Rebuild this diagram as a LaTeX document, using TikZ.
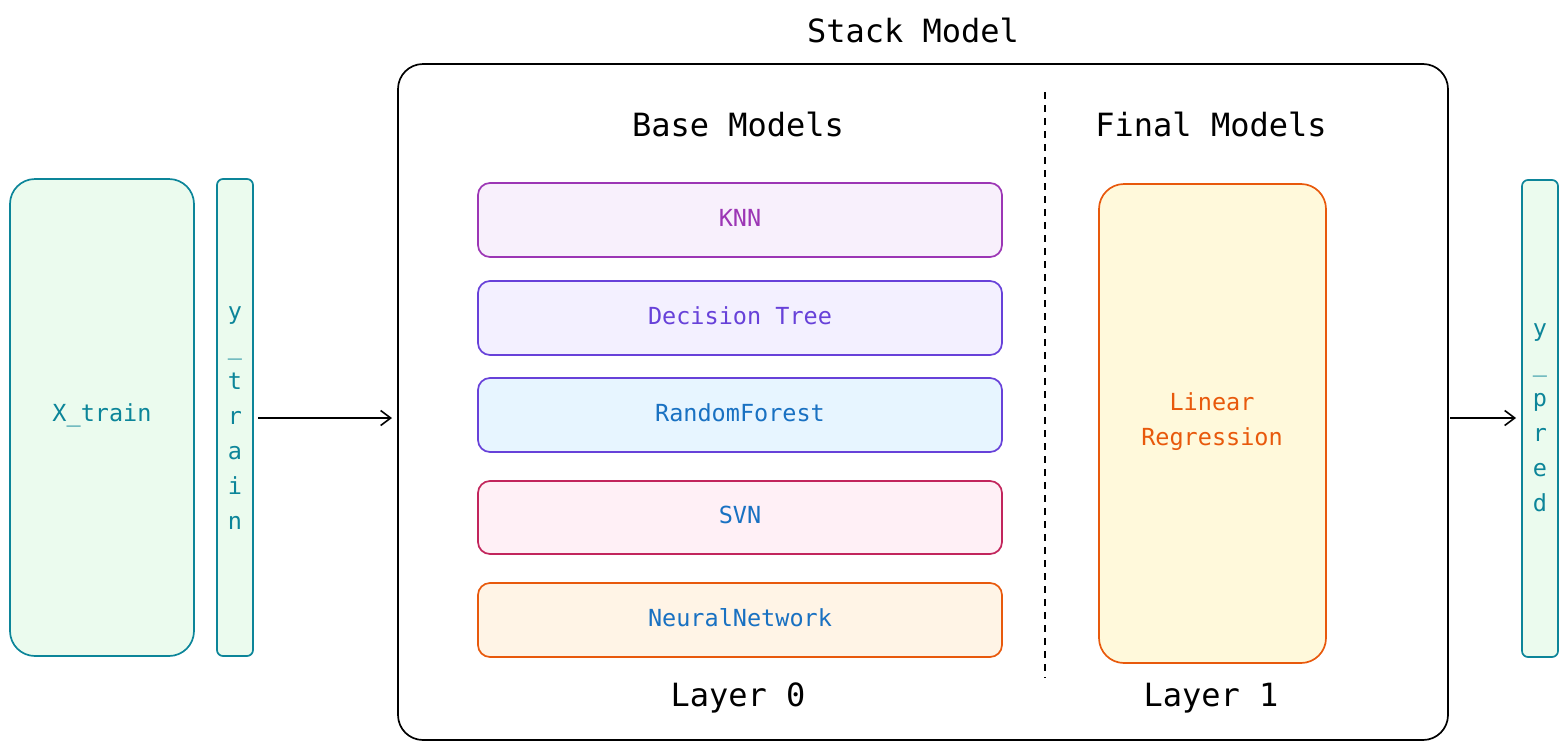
\documentclass[tikz,border=0pt]{standalone}
\usepackage{fontspec}
\setmonofont{DejaVu Sans Mono}
\usetikzlibrary{arrows.meta}
\definecolor{teal}{HTML}{0C8599}\definecolor{tealf}{HTML}{EBFBEE}
\definecolor{pur}{HTML}{9C36B5}\definecolor{purf}{HTML}{F8F0FC}
\definecolor{vio}{HTML}{6741D9}\definecolor{viof}{HTML}{F3F0FF}
\definecolor{blu}{HTML}{1971C2}\definecolor{bluf}{HTML}{E7F5FF}
\definecolor{pin}{HTML}{C2255C}\definecolor{pinf}{HTML}{FFF0F6}
\definecolor{ora}{HTML}{E8590C}\definecolor{oraf}{HTML}{FFF4E6}
\definecolor{yelf}{HTML}{FFF9DB}
\begin{document}
\begin{tikzpicture}[x=1pt,y=-1pt,
 box/.style={draw,line width=1.7pt,rounded corners=12pt},
 lbl/.style={font=\ttfamily\fontsize{23.5}{32}\selectfont},
 head/.style={font=\ttfamily\fontsize{32}{38}\selectfont},
 arr/.style={line width=1.6pt,-{Straight Barb[length=10pt,width=15pt]}}]
\useasboundingbox (0,0) rectangle (1568,750);
\node[head] (title) at (913,30) {Stack Model};
\draw[box,rounded corners=25pt] (398,64) rectangle (1448,740);
\draw[line width=1.6pt,dash pattern=on 7pt off 6pt] (1045,92) -- (1045,678);
\node[head] (bm) at (738,124) {Base Models};
\node[head] (fm) at (1211,124) {Final Models};
\node[head] (l0) at (738,698) {Layer 0};
\node[head] (l1) at (1211,698) {Layer 1};
\draw[box,draw=pur,fill=purf] (478,183) rectangle (1002,257);
\node[lbl,text=pur] (knn) at (740,218) {KNN};
\draw[box,draw=vio,fill=viof] (478,281) rectangle (1002,355);
\node[lbl,text=vio] (dt) at (740,316) {Decision Tree};
\draw[box,draw=vio,fill=bluf] (478,378) rectangle (1002,452);
\node[lbl,text=blu] (rf) at (740,413) {RandomForest};
\draw[box,draw=pin,fill=pinf] (478,481) rectangle (1002,554);
\node[lbl,text=blu] (svn) at (740,515) {SVN};
\draw[box,draw=ora,fill=oraf] (478,583) rectangle (1002,657);
\node[lbl,text=blu] (nn) at (740,618) {NeuralNetwork};
\draw[box,draw=ora,fill=yelf,rounded corners=25pt] (1099,184) rectangle (1326,663);
\node[lbl,text=ora,align=center,font=\ttfamily\fontsize{23.5}{35}\selectfont] (lr) at (1212,422) {Linear\\Regression};
\draw[box,draw=teal,fill=tealf,rounded corners=25pt] (10,179) rectangle (194,656);
\node[lbl,text=teal] (xt) at (102,415) {X\_train};
\draw[box,draw=teal,fill=tealf,rounded corners=6pt] (217,179) rectangle (253,656);
\node[lbl,text=teal,align=center,font=\ttfamily\fontsize{23.5}{35}\selectfont] (yt) at (235,418) {y\\\_\\t\\r\\a\\i\\n};
\draw[box,draw=teal,fill=tealf,rounded corners=6pt] (1522,180) rectangle (1558,657);
\node[lbl,text=teal,align=center,font=\ttfamily\fontsize{23.5}{35}\selectfont] (yp) at (1540,418) {y\\\_\\p\\r\\e\\d};
\coordinate (a1) at (258,418); \coordinate (a2) at (392,418);
\coordinate (b1) at (1450,418); \coordinate (b2) at (1516,418);
\draw[arr] (a1) -- (a2);
\draw[arr] (b1) -- (b2);
\end{tikzpicture}
\end{document}
